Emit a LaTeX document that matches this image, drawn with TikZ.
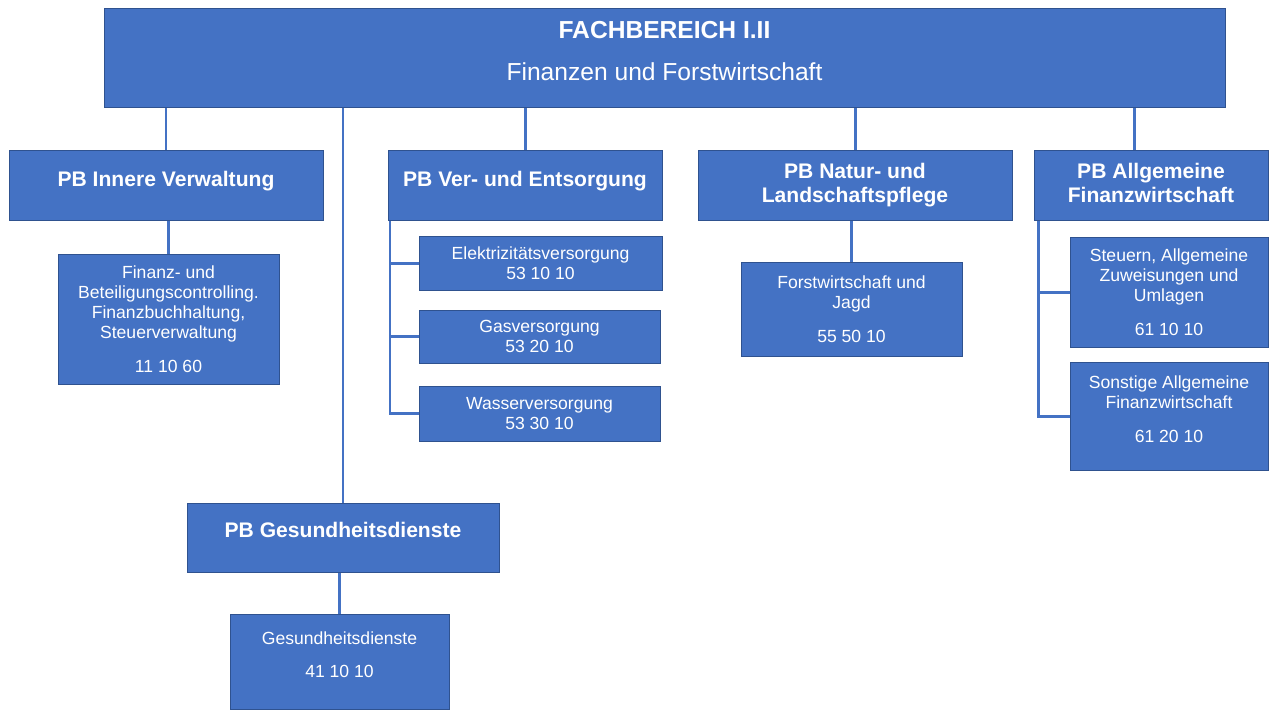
\documentclass[tikz,border=0pt]{standalone}
\usepackage{fontspec}
\setmainfont{Liberation Sans}
\usetikzlibrary{backgrounds}
\definecolor{boxblue}{HTML}{4472C4}
\definecolor{boxline}{HTML}{2F528F}

\begin{document}
\begin{tikzpicture} 
		[head/.style= {rectangle,draw=boxline,line width=0.5pt,fill=boxblue,text=white,align=center,inner sep=0pt,text depth=7.5pt,font=\fontsize{14}{24}\selectfont}, 
		pb/.style= {rectangle,draw=boxline,line width=0.5pt,fill=boxblue,text=white,align=center,inner sep=0pt,text depth=6.5pt,font=\bfseries\fontsize{12}{14}\selectfont}, 
		unit/.style= {rectangle,draw=boxline,line width=0.5pt,fill=boxblue,text=white,align=center,inner sep=0pt,font=\fontsize{10}{11.5}\selectfont}, 
		link/.style={line width=1.7pt,draw=boxblue}] 
		
		\useasboundingbox (0,0) rectangle (25.4,-14.22);
		
		\node[head,minimum width=22.42cm,minimum height=1.98cm] (top) at (13.29,-1.15) {\textbf{FACHBEREICH I.II}\\Finanzen und Forstwirtschaft}; 
		
		\node[pb,minimum width=6.28cm,minimum height=1.4cm] (inner) at (3.32,-3.7) {PB Innere Verwaltung}; 
		\node[pb,minimum width=5.48cm,minimum height=1.4cm] (ver) at (10.5,-3.7) {PB Ver- und Entsorgung}; 
		\node[pb,minimum width=6.28cm,minimum height=1.4cm,text depth=2.5pt] (natur) at (17.1,-3.7) {PB Natur- und\\Landschaftspflege}; 
		\node[pb,minimum width=4.68cm,minimum height=1.4cm,text depth=2.5pt] (allg) at (23.02,-3.7) {PB Allgemeine\\Finanzwirtschaft}; 
		\node[pb,minimum width=6.24cm,minimum height=1.38cm,text depth=9pt] (gesund) at (6.86,-10.75) {PB Gesundheitsdienste}; 
		
		\node[unit,minimum width=4.42cm,minimum height=2.6cm] (innerkid) at (3.37,-6.38) {Finanz- und\\Beteiligungscontrolling.\\Finanzbuchhaltung,\\Steuerverwaltung\\[7.5pt]11 10 60}; 
		\node[unit,minimum width=4.86cm,minimum height=1.08cm] (elek) at (10.81,-5.26) {Elektrizitätsversorgung\\53 10 10}; 
		\node[unit,minimum width=4.82cm,minimum height=1.06cm] (gas) at (10.79,-6.73) {Gasversorgung\\53 20 10}; 
		\node[unit,minimum width=4.82cm,minimum height=1.1cm] (wasser) at (10.79,-8.27) {Wasserversorgung\\53 30 10}; 
		\node[unit,minimum width=4.42cm,minimum height=1.88cm] (naturkid) at (17.03,-6.18) {Forstwirtschaft und\\Jagd\\[7.5pt]55 50 10}; 
		\node[unit,minimum width=3.96cm,minimum height=2.2cm] (steuern) at (23.38,-5.84) {Steuern, Allgemeine\\Zuweisungen und\\Umlagen\\[7.5pt]61 10 10}; 
		\node[unit,minimum width=3.96cm,minimum height=2.16cm,text depth=8pt] (sonst) at (23.38,-8.32) {Sonstige Allgemeine\\Finanzwirtschaft\\[7.5pt]61 20 10}; 
		\node[unit,minimum width=4.38cm,minimum height=1.9cm,text depth=8pt] (gesundkid) at (6.79,-13.23) {Gesundheitsdienste\\[7.5pt]41 10 10}; 
		
		\coordinate (allgjoin) at (22.68,0); 
		\coordinate (verrail) at (7.8,0); 
		\coordinate (allgrail) at (20.76,0); 
		
		\begin{pgfonlayer}{background} 
			% from the head to the product areas
			\draw[link] (top.south -| inner.north) -- (inner.north); 
			\draw[link] (top.south -| gesund.north) -- (gesund.north); 
			\draw[link] (top.south -| ver.north) -- (ver.north); 
			\draw[link] (top.south -| natur.north) -- (natur.north); 
			\draw[link] (top.south -| allgjoin) -- (allg.north -| allgjoin); 
			
			% product areas to products
			\draw[link] (inner.south -| innerkid.north) -- (innerkid.north); 
			\draw[link] (natur.south -| naturkid.north) -- (naturkid.north); 
			\draw[link] (gesund.south -| gesundkid.north) -- (gesundkid.north); 
			
			\draw[link] (ver.south -| verrail) |- (wasser.west); 
			\draw[link] (verrail |- elek.west) -- (elek.west); 
			\draw[link] (verrail |- gas.west) -- (gas.west); 
			
			\draw[link] (allg.south -| allgrail) |- (sonst.west); 
			\draw[link] (allgrail |- steuern.west) -- (steuern.west); 
		\end{pgfonlayer} 
		
	\end{tikzpicture}
\end{document}
